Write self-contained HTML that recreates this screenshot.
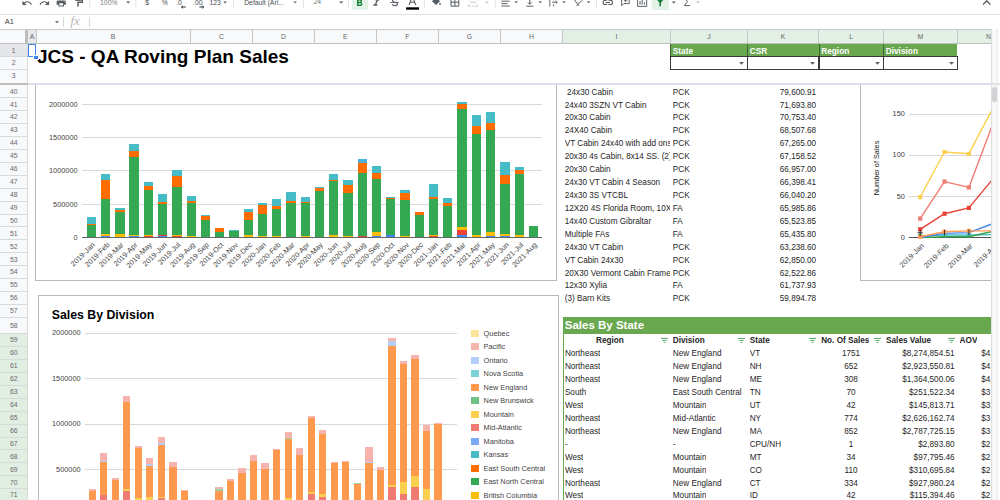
<!DOCTYPE html>
<html><head><meta charset="utf-8"><title>JCS - QA Roving Plan Sales</title>
<style>
html,body{margin:0;padding:0;}
body{width:1000px;height:500px;overflow:hidden;position:relative;background:#fff;font-family:"Liberation Sans", sans-serif;color:#222;}
.a{position:absolute;}
.t{position:absolute;white-space:nowrap;line-height:1;}
.rh{position:absolute;left:0;width:27.4px;text-align:center;font-size:6.8px;color:#6a6670;line-height:1;}
.ch{position:absolute;text-align:center;font-size:6.8px;color:#5f6368;line-height:1;top:34.0px;}
.c{position:absolute;white-space:nowrap;overflow:hidden;font-size:8.2px;line-height:12.9px;height:12.9px;color:#262626;}
.b{font-weight:bold;}
svg{position:absolute;overflow:visible;}
</style></head><body>
<div class="a" style="left:35.2px;top:70.0px;width:521.4px;height:210.8px;border:0.8px solid #b9b9b9;box-sizing:border-box;background:#fff;"></div>
<div class="a" style="left:81.6px;top:236.8px;width:460.8px;height:0.8px;background:#d9d9d9;"></div>
<div class="t" style="right:922.4px;top:233.8px;font-size:7.35px;color:#444;">0</div>
<div class="a" style="left:81.6px;top:203.5px;width:460.8px;height:0.8px;background:#d9d9d9;"></div>
<div class="t" style="right:922.4px;top:200.5px;font-size:7.35px;color:#444;">500000</div>
<div class="a" style="left:81.6px;top:170.3px;width:460.8px;height:0.8px;background:#d9d9d9;"></div>
<div class="t" style="right:922.4px;top:167.3px;font-size:7.35px;color:#444;">1000000</div>
<div class="a" style="left:81.6px;top:137.0px;width:460.8px;height:0.8px;background:#d9d9d9;"></div>
<div class="t" style="right:922.4px;top:134.0px;font-size:7.35px;color:#444;">1500000</div>
<div class="a" style="left:81.6px;top:103.8px;width:460.8px;height:0.8px;background:#d9d9d9;"></div>
<div class="t" style="right:922.4px;top:100.8px;font-size:7.35px;color:#444;">2000000</div>
<div class="a" style="left:86.70px;top:217.40px;width:9.3px;height:19.80px;background:#46bdc6;"></div>
<div class="a" style="left:86.70px;top:224.00px;width:9.3px;height:13.20px;background:#ff6d01;"></div>
<div class="a" style="left:86.70px;top:225.20px;width:9.3px;height:12.00px;background:#34a853;"></div>
<div class="a" style="left:86.70px;top:236.60px;width:9.3px;height:0.60px;background:#fbbc04;"></div>
<div class="a" style="left:100.96px;top:173.60px;width:9.3px;height:63.60px;background:#46bdc6;"></div>
<div class="a" style="left:100.96px;top:180.20px;width:9.3px;height:57.00px;background:#ff6d01;"></div>
<div class="a" style="left:100.96px;top:199.40px;width:9.3px;height:37.80px;background:#34a853;"></div>
<div class="a" style="left:100.96px;top:233.90px;width:9.3px;height:3.30px;background:#fbbc04;"></div>
<div class="a" style="left:100.96px;top:236.00px;width:9.3px;height:1.20px;background:#4285f4;"></div>
<div class="a" style="left:115.22px;top:208.10px;width:9.3px;height:29.10px;background:#46bdc6;"></div>
<div class="a" style="left:115.22px;top:209.60px;width:9.3px;height:27.60px;background:#ff6d01;"></div>
<div class="a" style="left:115.22px;top:212.30px;width:9.3px;height:24.90px;background:#34a853;"></div>
<div class="a" style="left:115.22px;top:234.00px;width:9.3px;height:3.20px;background:#fbbc04;"></div>
<div class="a" style="left:115.22px;top:236.50px;width:9.3px;height:0.70px;background:#fbbc04;"></div>
<div class="a" style="left:129.48px;top:144.20px;width:9.3px;height:93.00px;background:#46bdc6;"></div>
<div class="a" style="left:129.48px;top:151.10px;width:9.3px;height:86.10px;background:#ff6d01;"></div>
<div class="a" style="left:129.48px;top:157.10px;width:9.3px;height:80.10px;background:#34a853;"></div>
<div class="a" style="left:129.48px;top:234.50px;width:9.3px;height:2.70px;background:#fbbc04;"></div>
<div class="a" style="left:129.48px;top:236.20px;width:9.3px;height:1.00px;background:#4285f4;"></div>
<div class="a" style="left:143.74px;top:182.30px;width:9.3px;height:54.90px;background:#46bdc6;"></div>
<div class="a" style="left:143.74px;top:186.00px;width:9.3px;height:51.20px;background:#ff6d01;"></div>
<div class="a" style="left:143.74px;top:190.40px;width:9.3px;height:46.80px;background:#34a853;"></div>
<div class="a" style="left:143.74px;top:234.50px;width:9.3px;height:2.70px;background:#fbbc04;"></div>
<div class="a" style="left:143.74px;top:236.20px;width:9.3px;height:1.00px;background:#ea4335;"></div>
<div class="a" style="left:158.00px;top:194.00px;width:9.3px;height:43.20px;background:#46bdc6;"></div>
<div class="a" style="left:158.00px;top:201.80px;width:9.3px;height:35.40px;background:#ff6d01;"></div>
<div class="a" style="left:158.00px;top:203.60px;width:9.3px;height:33.60px;background:#34a853;"></div>
<div class="a" style="left:158.00px;top:235.00px;width:9.3px;height:2.20px;background:#ea4335;"></div>
<div class="a" style="left:158.00px;top:236.30px;width:9.3px;height:0.90px;background:#4285f4;"></div>
<div class="a" style="left:172.26px;top:170.30px;width:9.3px;height:66.90px;background:#46bdc6;"></div>
<div class="a" style="left:172.26px;top:176.30px;width:9.3px;height:60.90px;background:#ff6d01;"></div>
<div class="a" style="left:172.26px;top:187.40px;width:9.3px;height:49.80px;background:#34a853;"></div>
<div class="a" style="left:172.26px;top:234.50px;width:9.3px;height:2.70px;background:#fbbc04;"></div>
<div class="a" style="left:172.26px;top:235.60px;width:9.3px;height:1.60px;background:#ea4335;"></div>
<div class="a" style="left:186.52px;top:196.10px;width:9.3px;height:41.10px;background:#46bdc6;"></div>
<div class="a" style="left:186.52px;top:200.90px;width:9.3px;height:36.30px;background:#ff6d01;"></div>
<div class="a" style="left:186.52px;top:203.00px;width:9.3px;height:34.20px;background:#34a853;"></div>
<div class="a" style="left:186.52px;top:236.00px;width:9.3px;height:1.20px;background:#fbbc04;"></div>
<div class="a" style="left:200.78px;top:215.00px;width:9.3px;height:22.20px;background:#46bdc6;"></div>
<div class="a" style="left:200.78px;top:215.70px;width:9.3px;height:21.50px;background:#ff6d01;"></div>
<div class="a" style="left:200.78px;top:219.80px;width:9.3px;height:17.40px;background:#34a853;"></div>
<div class="a" style="left:200.78px;top:236.60px;width:9.3px;height:0.60px;background:#fbbc04;"></div>
<div class="a" style="left:215.04px;top:227.90px;width:9.3px;height:9.30px;background:#ff6d01;"></div>
<div class="a" style="left:215.04px;top:232.10px;width:9.3px;height:5.10px;background:#34a853;"></div>
<div class="a" style="left:229.30px;top:229.70px;width:9.3px;height:7.50px;background:#46bdc6;"></div>
<div class="a" style="left:229.30px;top:231.00px;width:9.3px;height:6.20px;background:#34a853;"></div>
<div class="a" style="left:243.56px;top:209.00px;width:9.3px;height:28.20px;background:#46bdc6;"></div>
<div class="a" style="left:243.56px;top:212.00px;width:9.3px;height:25.20px;background:#ff6d01;"></div>
<div class="a" style="left:243.56px;top:220.40px;width:9.3px;height:16.80px;background:#34a853;"></div>
<div class="a" style="left:243.56px;top:235.10px;width:9.3px;height:2.10px;background:#fbbc04;"></div>
<div class="a" style="left:257.82px;top:202.70px;width:9.3px;height:34.50px;background:#46bdc6;"></div>
<div class="a" style="left:257.82px;top:204.50px;width:9.3px;height:32.70px;background:#ff6d01;"></div>
<div class="a" style="left:257.82px;top:214.40px;width:9.3px;height:22.80px;background:#34a853;"></div>
<div class="a" style="left:257.82px;top:236.00px;width:9.3px;height:1.20px;background:#fbbc04;"></div>
<div class="a" style="left:272.08px;top:199.10px;width:9.3px;height:38.10px;background:#46bdc6;"></div>
<div class="a" style="left:272.08px;top:206.30px;width:9.3px;height:30.90px;background:#ff6d01;"></div>
<div class="a" style="left:272.08px;top:209.30px;width:9.3px;height:27.90px;background:#34a853;"></div>
<div class="a" style="left:272.08px;top:236.00px;width:9.3px;height:1.20px;background:#fbbc04;"></div>
<div class="a" style="left:286.34px;top:191.90px;width:9.3px;height:45.30px;background:#46bdc6;"></div>
<div class="a" style="left:286.34px;top:200.90px;width:9.3px;height:36.30px;background:#ff6d01;"></div>
<div class="a" style="left:286.34px;top:202.70px;width:9.3px;height:34.50px;background:#34a853;"></div>
<div class="a" style="left:300.60px;top:196.70px;width:9.3px;height:40.50px;background:#46bdc6;"></div>
<div class="a" style="left:300.60px;top:201.50px;width:9.3px;height:35.70px;background:#ff6d01;"></div>
<div class="a" style="left:300.60px;top:203.00px;width:9.3px;height:34.20px;background:#34a853;"></div>
<div class="a" style="left:300.60px;top:236.00px;width:9.3px;height:1.20px;background:#fbbc04;"></div>
<div class="a" style="left:314.86px;top:186.80px;width:9.3px;height:50.40px;background:#46bdc6;"></div>
<div class="a" style="left:314.86px;top:188.00px;width:9.3px;height:49.20px;background:#ff6d01;"></div>
<div class="a" style="left:314.86px;top:191.00px;width:9.3px;height:46.20px;background:#34a853;"></div>
<div class="a" style="left:314.86px;top:236.50px;width:9.3px;height:0.70px;background:#fbbc04;"></div>
<div class="a" style="left:329.12px;top:174.20px;width:9.3px;height:63.00px;background:#46bdc6;"></div>
<div class="a" style="left:329.12px;top:179.90px;width:9.3px;height:57.30px;background:#ff6d01;"></div>
<div class="a" style="left:329.12px;top:181.10px;width:9.3px;height:56.10px;background:#34a853;"></div>
<div class="a" style="left:329.12px;top:234.80px;width:9.3px;height:2.40px;background:#fbbc04;"></div>
<div class="a" style="left:343.38px;top:180.20px;width:9.3px;height:57.00px;background:#46bdc6;"></div>
<div class="a" style="left:343.38px;top:185.00px;width:9.3px;height:52.20px;background:#ff6d01;"></div>
<div class="a" style="left:343.38px;top:192.80px;width:9.3px;height:44.40px;background:#34a853;"></div>
<div class="a" style="left:343.38px;top:236.00px;width:9.3px;height:1.20px;background:#fbbc04;"></div>
<div class="a" style="left:357.64px;top:159.20px;width:9.3px;height:78.00px;background:#4ab0d6;"></div>
<div class="a" style="left:357.64px;top:163.40px;width:9.3px;height:73.80px;background:#ff6d01;"></div>
<div class="a" style="left:357.64px;top:173.00px;width:9.3px;height:64.20px;background:#34a853;"></div>
<div class="a" style="left:357.64px;top:236.40px;width:9.3px;height:0.80px;background:#ea4335;"></div>
<div class="a" style="left:371.90px;top:166.40px;width:9.3px;height:70.80px;background:#46bdc6;"></div>
<div class="a" style="left:371.90px;top:172.70px;width:9.3px;height:64.50px;background:#ff6d01;"></div>
<div class="a" style="left:371.90px;top:179.30px;width:9.3px;height:57.90px;background:#34a853;"></div>
<div class="a" style="left:371.90px;top:232.10px;width:9.3px;height:5.10px;background:#fbbc04;"></div>
<div class="a" style="left:371.90px;top:236.40px;width:9.3px;height:0.80px;background:#4285f4;"></div>
<div class="a" style="left:386.16px;top:197.00px;width:9.3px;height:40.20px;background:#46bdc6;"></div>
<div class="a" style="left:386.16px;top:197.70px;width:9.3px;height:39.50px;background:#ff6d01;"></div>
<div class="a" style="left:386.16px;top:199.10px;width:9.3px;height:38.10px;background:#34a853;"></div>
<div class="a" style="left:386.16px;top:235.10px;width:9.3px;height:2.10px;background:#4285f4;"></div>
<div class="a" style="left:400.42px;top:190.10px;width:9.3px;height:47.10px;background:#46bdc6;"></div>
<div class="a" style="left:400.42px;top:192.80px;width:9.3px;height:44.40px;background:#ff6d01;"></div>
<div class="a" style="left:400.42px;top:200.30px;width:9.3px;height:36.90px;background:#34a853;"></div>
<div class="a" style="left:400.42px;top:236.00px;width:9.3px;height:1.20px;background:#fbbc04;"></div>
<div class="a" style="left:414.68px;top:212.00px;width:9.3px;height:25.20px;background:#ff6d01;"></div>
<div class="a" style="left:414.68px;top:215.00px;width:9.3px;height:22.20px;background:#34a853;"></div>
<div class="a" style="left:414.68px;top:236.60px;width:9.3px;height:0.60px;background:#fbbc04;"></div>
<div class="a" style="left:428.94px;top:184.10px;width:9.3px;height:53.10px;background:#46bdc6;"></div>
<div class="a" style="left:428.94px;top:197.00px;width:9.3px;height:40.20px;background:#ff6d01;"></div>
<div class="a" style="left:428.94px;top:199.40px;width:9.3px;height:37.80px;background:#34a853;"></div>
<div class="a" style="left:428.94px;top:235.40px;width:9.3px;height:1.80px;background:#fbbc04;"></div>
<div class="a" style="left:428.94px;top:236.30px;width:9.3px;height:0.90px;background:#ea4335;"></div>
<div class="a" style="left:443.20px;top:198.20px;width:9.3px;height:39.00px;background:#46bdc6;"></div>
<div class="a" style="left:443.20px;top:202.70px;width:9.3px;height:34.50px;background:#ff6d01;"></div>
<div class="a" style="left:443.20px;top:206.30px;width:9.3px;height:30.90px;background:#34a853;"></div>
<div class="a" style="left:457.46px;top:101.90px;width:9.3px;height:135.30px;background:#46bdc6;"></div>
<div class="a" style="left:457.46px;top:104.30px;width:9.3px;height:132.90px;background:#ff6d01;"></div>
<div class="a" style="left:457.46px;top:109.10px;width:9.3px;height:128.10px;background:#34a853;"></div>
<div class="a" style="left:457.46px;top:227.00px;width:9.3px;height:10.20px;background:#fbbc04;"></div>
<div class="a" style="left:457.46px;top:230.00px;width:9.3px;height:7.20px;background:#ea4335;"></div>
<div class="a" style="left:457.46px;top:234.50px;width:9.3px;height:2.70px;background:#4285f4;"></div>
<div class="a" style="left:471.72px;top:114.80px;width:9.3px;height:122.40px;background:#46bdc6;"></div>
<div class="a" style="left:471.72px;top:126.20px;width:9.3px;height:111.00px;background:#ff6d01;"></div>
<div class="a" style="left:471.72px;top:134.30px;width:9.3px;height:102.90px;background:#34a853;"></div>
<div class="a" style="left:471.72px;top:234.50px;width:9.3px;height:2.70px;background:#fbbc04;"></div>
<div class="a" style="left:485.98px;top:111.80px;width:9.3px;height:125.40px;background:#46bdc6;"></div>
<div class="a" style="left:485.98px;top:122.90px;width:9.3px;height:114.30px;background:#ff6d01;"></div>
<div class="a" style="left:485.98px;top:130.10px;width:9.3px;height:107.10px;background:#34a853;"></div>
<div class="a" style="left:485.98px;top:231.50px;width:9.3px;height:5.70px;background:#fbbc04;"></div>
<div class="a" style="left:485.98px;top:236.00px;width:9.3px;height:1.20px;background:#4285f4;"></div>
<div class="a" style="left:500.24px;top:162.20px;width:9.3px;height:75.00px;background:#46bdc6;"></div>
<div class="a" style="left:500.24px;top:175.40px;width:9.3px;height:61.80px;background:#ff6d01;"></div>
<div class="a" style="left:500.24px;top:184.10px;width:9.3px;height:53.10px;background:#34a853;"></div>
<div class="a" style="left:500.24px;top:233.90px;width:9.3px;height:3.30px;background:#fbbc04;"></div>
<div class="a" style="left:500.24px;top:236.00px;width:9.3px;height:1.20px;background:#4285f4;"></div>
<div class="a" style="left:514.50px;top:167.00px;width:9.3px;height:70.20px;background:#46bdc6;"></div>
<div class="a" style="left:514.50px;top:170.00px;width:9.3px;height:67.20px;background:#ff6d01;"></div>
<div class="a" style="left:514.50px;top:173.60px;width:9.3px;height:63.60px;background:#34a853;"></div>
<div class="a" style="left:514.50px;top:234.80px;width:9.3px;height:2.40px;background:#fbbc04;"></div>
<div class="a" style="left:528.76px;top:226.10px;width:9.3px;height:11.10px;background:#34a853;"></div>
<div class="a" style="left:81.6px;top:237.1px;width:460.8px;height:0.8px;background:#666;"></div>
<div class="t" style="right:906.0px;top:240.4px;font-size:7.35px;color:#444;transform-origin:100% 50%;transform:rotate(-45deg);">2019-Jan</div>
<div class="t" style="right:891.8px;top:240.4px;font-size:7.35px;color:#444;transform-origin:100% 50%;transform:rotate(-45deg);">2019-Feb</div>
<div class="t" style="right:877.5px;top:240.4px;font-size:7.35px;color:#444;transform-origin:100% 50%;transform:rotate(-45deg);">2019-Mar</div>
<div class="t" style="right:863.3px;top:240.4px;font-size:7.35px;color:#444;transform-origin:100% 50%;transform:rotate(-45deg);">2019-Apr</div>
<div class="t" style="right:849.0px;top:240.4px;font-size:7.35px;color:#444;transform-origin:100% 50%;transform:rotate(-45deg);">2019-May</div>
<div class="t" style="right:834.8px;top:240.4px;font-size:7.35px;color:#444;transform-origin:100% 50%;transform:rotate(-45deg);">2019-Jun</div>
<div class="t" style="right:820.5px;top:240.4px;font-size:7.35px;color:#444;transform-origin:100% 50%;transform:rotate(-45deg);">2019-Jul</div>
<div class="t" style="right:806.2px;top:240.4px;font-size:7.35px;color:#444;transform-origin:100% 50%;transform:rotate(-45deg);">2019-Aug</div>
<div class="t" style="right:792.0px;top:240.4px;font-size:7.35px;color:#444;transform-origin:100% 50%;transform:rotate(-45deg);">2019-Sep</div>
<div class="t" style="right:777.7px;top:240.4px;font-size:7.35px;color:#444;transform-origin:100% 50%;transform:rotate(-45deg);">2019-Oct</div>
<div class="t" style="right:763.5px;top:240.4px;font-size:7.35px;color:#444;transform-origin:100% 50%;transform:rotate(-45deg);">2019-Nov</div>
<div class="t" style="right:749.2px;top:240.4px;font-size:7.35px;color:#444;transform-origin:100% 50%;transform:rotate(-45deg);">2019-Dec</div>
<div class="t" style="right:734.9px;top:240.4px;font-size:7.35px;color:#444;transform-origin:100% 50%;transform:rotate(-45deg);">2020-Jan</div>
<div class="t" style="right:720.7px;top:240.4px;font-size:7.35px;color:#444;transform-origin:100% 50%;transform:rotate(-45deg);">2020-Feb</div>
<div class="t" style="right:706.4px;top:240.4px;font-size:7.35px;color:#444;transform-origin:100% 50%;transform:rotate(-45deg);">2020-Mar</div>
<div class="t" style="right:692.1px;top:240.4px;font-size:7.35px;color:#444;transform-origin:100% 50%;transform:rotate(-45deg);">2020-Apr</div>
<div class="t" style="right:677.9px;top:240.4px;font-size:7.35px;color:#444;transform-origin:100% 50%;transform:rotate(-45deg);">2020-May</div>
<div class="t" style="right:663.6px;top:240.4px;font-size:7.35px;color:#444;transform-origin:100% 50%;transform:rotate(-45deg);">2020-Jun</div>
<div class="t" style="right:649.4px;top:240.4px;font-size:7.35px;color:#444;transform-origin:100% 50%;transform:rotate(-45deg);">2020-Jul</div>
<div class="t" style="right:635.1px;top:240.4px;font-size:7.35px;color:#444;transform-origin:100% 50%;transform:rotate(-45deg);">2020-Aug</div>
<div class="t" style="right:620.9px;top:240.4px;font-size:7.35px;color:#444;transform-origin:100% 50%;transform:rotate(-45deg);">2020-Sep</div>
<div class="t" style="right:606.6px;top:240.4px;font-size:7.35px;color:#444;transform-origin:100% 50%;transform:rotate(-45deg);">2020-Oct</div>
<div class="t" style="right:592.3px;top:240.4px;font-size:7.35px;color:#444;transform-origin:100% 50%;transform:rotate(-45deg);">2020-Nov</div>
<div class="t" style="right:578.1px;top:240.4px;font-size:7.35px;color:#444;transform-origin:100% 50%;transform:rotate(-45deg);">2020-Dec</div>
<div class="t" style="right:563.8px;top:240.4px;font-size:7.35px;color:#444;transform-origin:100% 50%;transform:rotate(-45deg);">2021-Jan</div>
<div class="t" style="right:549.5px;top:240.4px;font-size:7.35px;color:#444;transform-origin:100% 50%;transform:rotate(-45deg);">2021-Feb</div>
<div class="t" style="right:535.3px;top:240.4px;font-size:7.35px;color:#444;transform-origin:100% 50%;transform:rotate(-45deg);">2021-Mar</div>
<div class="t" style="right:521.0px;top:240.4px;font-size:7.35px;color:#444;transform-origin:100% 50%;transform:rotate(-45deg);">2021-Apr</div>
<div class="t" style="right:506.8px;top:240.4px;font-size:7.35px;color:#444;transform-origin:100% 50%;transform:rotate(-45deg);">2021-May</div>
<div class="t" style="right:492.5px;top:240.4px;font-size:7.35px;color:#444;transform-origin:100% 50%;transform:rotate(-45deg);">2021-Jun</div>
<div class="t" style="right:478.2px;top:240.4px;font-size:7.35px;color:#444;transform-origin:100% 50%;transform:rotate(-45deg);">2021-Jul</div>
<div class="t" style="right:464.0px;top:240.4px;font-size:7.35px;color:#444;transform-origin:100% 50%;transform:rotate(-45deg);">2021-Aug</div>
<div class="c" style="left:564.7px;top:86.6px;width:105.4px;"> 24x30 Cabin</div>
<div class="c" style="left:672.8px;top:86.6px;width:73.9px;">PCK</div>
<div class="c" style="left:747.3px;top:86.6px;width:68.9px;text-align:right;">79,600.91</div>
<div class="c" style="left:564.7px;top:99.5px;width:105.4px;">24x40 3SZN VT Cabin</div>
<div class="c" style="left:672.8px;top:99.5px;width:73.9px;">PCK</div>
<div class="c" style="left:747.3px;top:99.5px;width:68.9px;text-align:right;">71,693.80</div>
<div class="c" style="left:564.7px;top:112.4px;width:105.4px;">20x30 Cabin</div>
<div class="c" style="left:672.8px;top:112.4px;width:73.9px;">PCK</div>
<div class="c" style="left:747.3px;top:112.4px;width:68.9px;text-align:right;">70,753.40</div>
<div class="c" style="left:564.7px;top:125.4px;width:105.4px;">24X40 Cabin</div>
<div class="c" style="left:672.8px;top:125.4px;width:73.9px;">PCK</div>
<div class="c" style="left:747.3px;top:125.4px;width:68.9px;text-align:right;">68,507.68</div>
<div class="c" style="left:564.7px;top:138.3px;width:105.4px;">VT Cabin 24x40 with add ons</div>
<div class="c" style="left:672.8px;top:138.3px;width:73.9px;">PCK</div>
<div class="c" style="left:747.3px;top:138.3px;width:68.9px;text-align:right;">67,265.00</div>
<div class="c" style="left:564.7px;top:151.2px;width:105.4px;">20x30 4s Cabin, 8x14 SS. (2)</div>
<div class="c" style="left:672.8px;top:151.2px;width:73.9px;">PCK</div>
<div class="c" style="left:747.3px;top:151.2px;width:68.9px;text-align:right;">67,158.52</div>
<div class="c" style="left:564.7px;top:164.1px;width:105.4px;">20x30 Cabin</div>
<div class="c" style="left:672.8px;top:164.1px;width:73.9px;">PCK</div>
<div class="c" style="left:747.3px;top:164.1px;width:68.9px;text-align:right;">66,957.00</div>
<div class="c" style="left:564.7px;top:177.0px;width:105.4px;">24x30 VT Cabin 4 Season</div>
<div class="c" style="left:672.8px;top:177.0px;width:73.9px;">PCK</div>
<div class="c" style="left:747.3px;top:177.0px;width:68.9px;text-align:right;">66,398.41</div>
<div class="c" style="left:564.7px;top:190.0px;width:105.4px;">24x30 3S VTCBL</div>
<div class="c" style="left:672.8px;top:190.0px;width:73.9px;">PCK</div>
<div class="c" style="left:747.3px;top:190.0px;width:68.9px;text-align:right;">66,040.20</div>
<div class="c" style="left:564.7px;top:202.9px;width:105.4px;">12X20 4S Florida Room, 10X12</div>
<div class="c" style="left:672.8px;top:202.9px;width:73.9px;">FA</div>
<div class="c" style="left:747.3px;top:202.9px;width:68.9px;text-align:right;">65,985.86</div>
<div class="c" style="left:564.7px;top:215.8px;width:105.4px;">14x40 Custom Gibraltar</div>
<div class="c" style="left:672.8px;top:215.8px;width:73.9px;">FA</div>
<div class="c" style="left:747.3px;top:215.8px;width:68.9px;text-align:right;">65,523.85</div>
<div class="c" style="left:564.7px;top:228.7px;width:105.4px;">Multiple FAs</div>
<div class="c" style="left:672.8px;top:228.7px;width:73.9px;">FA</div>
<div class="c" style="left:747.3px;top:228.7px;width:68.9px;text-align:right;">65,435.80</div>
<div class="c" style="left:564.7px;top:241.6px;width:105.4px;">24x30 VT Cabin</div>
<div class="c" style="left:672.8px;top:241.6px;width:73.9px;">PCK</div>
<div class="c" style="left:747.3px;top:241.6px;width:68.9px;text-align:right;">63,238.60</div>
<div class="c" style="left:564.7px;top:254.6px;width:105.4px;">VT Cabin 24x30</div>
<div class="c" style="left:672.8px;top:254.6px;width:73.9px;">PCK</div>
<div class="c" style="left:747.3px;top:254.6px;width:68.9px;text-align:right;">62,850.00</div>
<div class="c" style="left:564.7px;top:267.5px;width:105.4px;">20X30 Vermont Cabin Frame</div>
<div class="c" style="left:672.8px;top:267.5px;width:73.9px;">PCK</div>
<div class="c" style="left:747.3px;top:267.5px;width:68.9px;text-align:right;">62,522.86</div>
<div class="c" style="left:564.7px;top:280.4px;width:105.4px;">12x30 Xylia</div>
<div class="c" style="left:672.8px;top:280.4px;width:73.9px;">FA</div>
<div class="c" style="left:747.3px;top:280.4px;width:68.9px;text-align:right;">61,737.93</div>
<div class="c" style="left:564.7px;top:293.3px;width:105.4px;">(3) Barn Kits</div>
<div class="c" style="left:672.8px;top:293.3px;width:73.9px;">PCK</div>
<div class="c" style="left:747.3px;top:293.3px;width:68.9px;text-align:right;">59,894.78</div>
<div class="a" style="left:562.8px;top:317.1px;width:428.2px;height:16.5px;background:#6aa84f;"></div>
<div class="t b" style="left:564.8px;top:319.6px;font-size:11.5px;color:#fff;">Sales By State</div>
<div class="a" style="left:562.6px;top:333px;width:0.8px;height:170px;background:#6aa84f;"></div>
<div class="c b" style="left:562.4px;top:335.4px;width:95.0px;text-align:center;">Region</div>
<div class="c b" style="left:672.8px;top:335.4px;">Division</div>
<div class="c b" style="left:749.7px;top:335.4px;">State</div>
<div class="c b" style="left:821.2px;top:335.4px;">No. Of Sales</div>
<div class="c b" style="left:886.1px;top:335.4px;">Sales Value</div>
<div class="c b" style="left:959.6px;top:335.4px;">AOV</div>
<svg style="left:661.0px;top:337.5px" width="7" height="5" viewBox="0 0 7 5"><path d="M0 0.4h7M1.4 2.4h4.2M2.7 4.4h1.6" stroke="#3c9a53" stroke-width="0.9" fill="none"/></svg>
<svg style="left:737.9px;top:337.5px" width="7" height="5" viewBox="0 0 7 5"><path d="M0 0.4h7M1.4 2.4h4.2M2.7 4.4h1.6" stroke="#3c9a53" stroke-width="0.9" fill="none"/></svg>
<svg style="left:809.4px;top:337.5px" width="7" height="5" viewBox="0 0 7 5"><path d="M0 0.4h7M1.4 2.4h4.2M2.7 4.4h1.6" stroke="#3c9a53" stroke-width="0.9" fill="none"/></svg>
<svg style="left:873.9px;top:337.5px" width="7" height="5" viewBox="0 0 7 5"><path d="M0 0.4h7M1.4 2.4h4.2M2.7 4.4h1.6" stroke="#3c9a53" stroke-width="0.9" fill="none"/></svg>
<svg style="left:948.0px;top:337.5px" width="7" height="5" viewBox="0 0 7 5"><path d="M0 0.4h7M1.4 2.4h4.2M2.7 4.4h1.6" stroke="#3c9a53" stroke-width="0.9" fill="none"/></svg>
<div class="c" style="left:564.9px;top:348.3px;">Northeast</div>
<div class="c" style="left:672.8px;top:348.3px;">New England</div>
<div class="c" style="left:749.7px;top:348.3px;">VT</div>
<div class="c" style="left:818.8px;top:348.3px;width:64.5px;text-align:center;">1751</div>
<div class="c" style="left:883.3px;top:348.3px;width:71.3px;text-align:right;">$8,274,854.51</div>
<div class="c" style="left:981.2px;top:348.3px;width:40px;">$4,725.00</div>
<div class="c" style="left:564.9px;top:361.2px;">Northeast</div>
<div class="c" style="left:672.8px;top:361.2px;">New England</div>
<div class="c" style="left:749.7px;top:361.2px;">NH</div>
<div class="c" style="left:818.8px;top:361.2px;width:64.5px;text-align:center;">652</div>
<div class="c" style="left:883.3px;top:361.2px;width:71.3px;text-align:right;">$2,923,550.81</div>
<div class="c" style="left:981.2px;top:361.2px;width:40px;">$4,725.00</div>
<div class="c" style="left:564.9px;top:374.2px;">Northeast</div>
<div class="c" style="left:672.8px;top:374.2px;">New England</div>
<div class="c" style="left:749.7px;top:374.2px;">ME</div>
<div class="c" style="left:818.8px;top:374.2px;width:64.5px;text-align:center;">308</div>
<div class="c" style="left:883.3px;top:374.2px;width:71.3px;text-align:right;">$1,364,500.06</div>
<div class="c" style="left:981.2px;top:374.2px;width:40px;">$4,725.00</div>
<div class="c" style="left:564.9px;top:387.1px;">South</div>
<div class="c" style="left:672.8px;top:387.1px;">East South Central</div>
<div class="c" style="left:749.7px;top:387.1px;">TN</div>
<div class="c" style="left:818.8px;top:387.1px;width:64.5px;text-align:center;">70</div>
<div class="c" style="left:883.3px;top:387.1px;width:71.3px;text-align:right;">$251,522.34</div>
<div class="c" style="left:981.2px;top:387.1px;width:40px;">$3,725.00</div>
<div class="c" style="left:564.9px;top:400.0px;">West</div>
<div class="c" style="left:672.8px;top:400.0px;">Mountain</div>
<div class="c" style="left:749.7px;top:400.0px;">UT</div>
<div class="c" style="left:818.8px;top:400.0px;width:64.5px;text-align:center;">42</div>
<div class="c" style="left:883.3px;top:400.0px;width:71.3px;text-align:right;">$145,813.71</div>
<div class="c" style="left:981.2px;top:400.0px;width:40px;">$3,725.00</div>
<div class="c" style="left:564.9px;top:412.9px;">Northeast</div>
<div class="c" style="left:672.8px;top:412.9px;">Mid-Atlantic</div>
<div class="c" style="left:749.7px;top:412.9px;">NY</div>
<div class="c" style="left:818.8px;top:412.9px;width:64.5px;text-align:center;">774</div>
<div class="c" style="left:883.3px;top:412.9px;width:71.3px;text-align:right;">$2,626,162.74</div>
<div class="c" style="left:981.2px;top:412.9px;width:40px;">$3,725.00</div>
<div class="c" style="left:564.9px;top:425.8px;">Northeast</div>
<div class="c" style="left:672.8px;top:425.8px;">New England</div>
<div class="c" style="left:749.7px;top:425.8px;">MA</div>
<div class="c" style="left:818.8px;top:425.8px;width:64.5px;text-align:center;">852</div>
<div class="c" style="left:883.3px;top:425.8px;width:71.3px;text-align:right;">$2,787,725.15</div>
<div class="c" style="left:981.2px;top:425.8px;width:40px;">$3,725.00</div>
<div class="c" style="left:564.9px;top:438.8px;">-</div>
<div class="c" style="left:672.8px;top:438.8px;">-</div>
<div class="c" style="left:749.7px;top:438.8px;">CPU/NH</div>
<div class="c" style="left:818.8px;top:438.8px;width:64.5px;text-align:center;">1</div>
<div class="c" style="left:883.3px;top:438.8px;width:71.3px;text-align:right;">$2,893.80</div>
<div class="c" style="left:981.2px;top:438.8px;width:40px;">$2,725.00</div>
<div class="c" style="left:564.9px;top:451.7px;">West</div>
<div class="c" style="left:672.8px;top:451.7px;">Mountain</div>
<div class="c" style="left:749.7px;top:451.7px;">MT</div>
<div class="c" style="left:818.8px;top:451.7px;width:64.5px;text-align:center;">34</div>
<div class="c" style="left:883.3px;top:451.7px;width:71.3px;text-align:right;">$97,795.46</div>
<div class="c" style="left:981.2px;top:451.7px;width:40px;">$2,725.00</div>
<div class="c" style="left:564.9px;top:464.6px;">West</div>
<div class="c" style="left:672.8px;top:464.6px;">Mountain</div>
<div class="c" style="left:749.7px;top:464.6px;">CO</div>
<div class="c" style="left:818.8px;top:464.6px;width:64.5px;text-align:center;">110</div>
<div class="c" style="left:883.3px;top:464.6px;width:71.3px;text-align:right;">$310,695.84</div>
<div class="c" style="left:981.2px;top:464.6px;width:40px;">$2,725.00</div>
<div class="c" style="left:564.9px;top:477.5px;">Northeast</div>
<div class="c" style="left:672.8px;top:477.5px;">New England</div>
<div class="c" style="left:749.7px;top:477.5px;">CT</div>
<div class="c" style="left:818.8px;top:477.5px;width:64.5px;text-align:center;">334</div>
<div class="c" style="left:883.3px;top:477.5px;width:71.3px;text-align:right;">$927,980.24</div>
<div class="c" style="left:981.2px;top:477.5px;width:40px;">$2,725.00</div>
<div class="c" style="left:564.9px;top:490.4px;">West</div>
<div class="c" style="left:672.8px;top:490.4px;">Mountain</div>
<div class="c" style="left:749.7px;top:490.4px;">ID</div>
<div class="c" style="left:818.8px;top:490.4px;width:64.5px;text-align:center;">42</div>
<div class="c" style="left:883.3px;top:490.4px;width:71.3px;text-align:right;">$115,394.46</div>
<div class="c" style="left:981.2px;top:490.4px;width:40px;">$2,725.00</div>
<div class="a" style="left:38.0px;top:294.9px;width:521.0px;height:230px;border:0.8px solid #b9b9b9;box-sizing:border-box;background:#fff;"></div>
<div class="t b" style="left:51.8px;top:308.6px;font-size:12.3px;color:#000;">Sales By Division</div>
<div class="a" style="left:84.6px;top:332.9px;width:372.7px;height:0.8px;background:#d9d9d9;"></div>
<div class="t" style="right:919.4px;top:329.4px;font-size:7.35px;color:#444;">2000000</div>
<div class="a" style="left:84.6px;top:378.4px;width:372.7px;height:0.8px;background:#d9d9d9;"></div>
<div class="t" style="right:919.4px;top:374.9px;font-size:7.35px;color:#444;">1500000</div>
<div class="a" style="left:84.6px;top:423.9px;width:372.7px;height:0.8px;background:#d9d9d9;"></div>
<div class="t" style="right:919.4px;top:420.4px;font-size:7.35px;color:#444;">1000000</div>
<div class="a" style="left:84.6px;top:469.4px;width:372.7px;height:0.8px;background:#d9d9d9;"></div>
<div class="t" style="right:919.4px;top:465.9px;font-size:7.35px;color:#444;">500000</div>
<div class="a" style="left:471.4px;top:329.5px;width:7.4px;height:7.4px;background:#fde49b;"></div>
<div class="t" style="left:483.6px;top:329.9px;font-size:7.35px;color:#444;">Quebec</div>
<div class="a" style="left:471.4px;top:343.0px;width:7.4px;height:7.4px;background:#f7b4ae;"></div>
<div class="t" style="left:483.6px;top:343.4px;font-size:7.35px;color:#444;">Pacific</div>
<div class="a" style="left:471.4px;top:356.5px;width:7.4px;height:7.4px;background:#b3cefb;"></div>
<div class="t" style="left:483.6px;top:356.9px;font-size:7.35px;color:#444;">Ontario</div>
<div class="a" style="left:471.4px;top:370.0px;width:7.4px;height:7.4px;background:#7ed1d7;"></div>
<div class="t" style="left:483.6px;top:370.4px;font-size:7.35px;color:#444;">Nova Scotia</div>
<div class="a" style="left:471.4px;top:383.5px;width:7.4px;height:7.4px;background:#ff994d;"></div>
<div class="t" style="left:483.6px;top:383.9px;font-size:7.35px;color:#444;">New England</div>
<div class="a" style="left:471.4px;top:397.0px;width:7.4px;height:7.4px;background:#71c287;"></div>
<div class="t" style="left:483.6px;top:397.4px;font-size:7.35px;color:#444;">New Brunswick</div>
<div class="a" style="left:471.4px;top:410.5px;width:7.4px;height:7.4px;background:#fcd04f;"></div>
<div class="t" style="left:483.6px;top:410.9px;font-size:7.35px;color:#444;">Mountain</div>
<div class="a" style="left:471.4px;top:424.0px;width:7.4px;height:7.4px;background:#f07b72;"></div>
<div class="t" style="left:483.6px;top:424.4px;font-size:7.35px;color:#444;">Mid-Atlantic</div>
<div class="a" style="left:471.4px;top:437.5px;width:7.4px;height:7.4px;background:#7baaf7;"></div>
<div class="t" style="left:483.6px;top:437.9px;font-size:7.35px;color:#444;">Manitoba</div>
<div class="a" style="left:471.4px;top:451.0px;width:7.4px;height:7.4px;background:#46bdc6;"></div>
<div class="t" style="left:483.6px;top:451.4px;font-size:7.35px;color:#444;">Kansas</div>
<div class="a" style="left:471.4px;top:464.5px;width:7.4px;height:7.4px;background:#ff6d01;"></div>
<div class="t" style="left:483.6px;top:464.9px;font-size:7.35px;color:#444;">East South Central</div>
<div class="a" style="left:471.4px;top:478.0px;width:7.4px;height:7.4px;background:#34a853;"></div>
<div class="t" style="left:483.6px;top:478.4px;font-size:7.35px;color:#444;">East North Central</div>
<div class="a" style="left:471.4px;top:491.5px;width:7.4px;height:7.4px;background:#fbbc04;"></div>
<div class="t" style="left:483.6px;top:491.9px;font-size:7.35px;color:#444;">British Columbia</div>
<div class="a" style="left:88.50px;top:489.20px;width:7.3px;height:15.80px;background:#f7b4ae;"></div>
<div class="a" style="left:88.50px;top:491.00px;width:7.3px;height:14.00px;background:#ff994d;"></div>
<div class="a" style="left:100.03px;top:453.10px;width:7.3px;height:51.90px;background:#f7b4ae;"></div>
<div class="a" style="left:100.03px;top:461.00px;width:7.3px;height:44.00px;background:#b3cefb;"></div>
<div class="a" style="left:100.03px;top:462.00px;width:7.3px;height:43.00px;background:#ff994d;"></div>
<div class="a" style="left:100.03px;top:495.30px;width:7.3px;height:9.70px;background:#f07b72;"></div>
<div class="a" style="left:111.56px;top:478.30px;width:7.3px;height:26.70px;background:#f7b4ae;"></div>
<div class="a" style="left:111.56px;top:480.00px;width:7.3px;height:25.00px;background:#ff994d;"></div>
<div class="a" style="left:123.09px;top:395.60px;width:7.3px;height:109.40px;background:#f7b4ae;"></div>
<div class="a" style="left:123.09px;top:402.10px;width:7.3px;height:102.90px;background:#ff994d;"></div>
<div class="a" style="left:123.09px;top:488.80px;width:7.3px;height:16.20px;background:#fcd04f;"></div>
<div class="a" style="left:123.09px;top:491.20px;width:7.3px;height:13.80px;background:#f07b72;"></div>
<div class="a" style="left:134.62px;top:446.00px;width:7.3px;height:59.00px;background:#f7b4ae;"></div>
<div class="a" style="left:134.62px;top:448.00px;width:7.3px;height:57.00px;background:#ff994d;"></div>
<div class="a" style="left:134.62px;top:497.70px;width:7.3px;height:7.30px;background:#fcd04f;"></div>
<div class="a" style="left:146.15px;top:458.20px;width:7.3px;height:46.80px;background:#f7b4ae;"></div>
<div class="a" style="left:146.15px;top:464.00px;width:7.3px;height:41.00px;background:#b3cefb;"></div>
<div class="a" style="left:146.15px;top:466.00px;width:7.3px;height:39.00px;background:#ff994d;"></div>
<div class="a" style="left:146.15px;top:497.30px;width:7.3px;height:7.70px;background:#fcd04f;"></div>
<div class="a" style="left:157.68px;top:436.50px;width:7.3px;height:68.50px;background:#f7b4ae;"></div>
<div class="a" style="left:157.68px;top:442.90px;width:7.3px;height:62.10px;background:#b3cefb;"></div>
<div class="a" style="left:157.68px;top:445.00px;width:7.3px;height:60.00px;background:#ff994d;"></div>
<div class="a" style="left:157.68px;top:496.70px;width:7.3px;height:8.30px;background:#fcd04f;"></div>
<div class="a" style="left:157.68px;top:498.00px;width:7.3px;height:7.00px;background:#f07b72;"></div>
<div class="a" style="left:169.21px;top:462.00px;width:7.3px;height:43.00px;background:#f7b4ae;"></div>
<div class="a" style="left:169.21px;top:466.70px;width:7.3px;height:38.30px;background:#ff994d;"></div>
<div class="a" style="left:180.74px;top:490.20px;width:7.3px;height:14.80px;background:#f7b4ae;"></div>
<div class="a" style="left:180.74px;top:490.80px;width:7.3px;height:14.20px;background:#ff994d;"></div>
<div class="a" style="left:215.33px;top:486.50px;width:7.3px;height:18.50px;background:#f7b4ae;"></div>
<div class="a" style="left:215.33px;top:488.50px;width:7.3px;height:16.50px;background:#9ad0a5;"></div>
<div class="a" style="left:215.33px;top:491.00px;width:7.3px;height:14.00px;background:#ff994d;"></div>
<div class="a" style="left:226.86px;top:478.60px;width:7.3px;height:26.40px;background:#f7b4ae;"></div>
<div class="a" style="left:226.86px;top:480.70px;width:7.3px;height:24.30px;background:#ff994d;"></div>
<div class="a" style="left:238.39px;top:467.80px;width:7.3px;height:37.20px;background:#f7b4ae;"></div>
<div class="a" style="left:238.39px;top:472.50px;width:7.3px;height:32.50px;background:#ff994d;"></div>
<div class="a" style="left:249.92px;top:454.50px;width:7.3px;height:50.50px;background:#f7b4ae;"></div>
<div class="a" style="left:249.92px;top:460.60px;width:7.3px;height:44.40px;background:#ff994d;"></div>
<div class="a" style="left:261.45px;top:462.70px;width:7.3px;height:42.30px;background:#f7b4ae;"></div>
<div class="a" style="left:261.45px;top:468.80px;width:7.3px;height:36.20px;background:#ff994d;"></div>
<div class="a" style="left:272.98px;top:449.00px;width:7.3px;height:56.00px;background:#f7b4ae;"></div>
<div class="a" style="left:272.98px;top:450.00px;width:7.3px;height:55.00px;background:#ff994d;"></div>
<div class="a" style="left:284.51px;top:432.40px;width:7.3px;height:72.60px;background:#f7b4ae;"></div>
<div class="a" style="left:284.51px;top:437.50px;width:7.3px;height:67.50px;background:#9ad0a5;"></div>
<div class="a" style="left:284.51px;top:438.50px;width:7.3px;height:66.50px;background:#ff994d;"></div>
<div class="a" style="left:284.51px;top:498.40px;width:7.3px;height:6.60px;background:#fcd04f;"></div>
<div class="a" style="left:296.04px;top:448.00px;width:7.3px;height:57.00px;background:#f7b4ae;"></div>
<div class="a" style="left:296.04px;top:454.50px;width:7.3px;height:50.50px;background:#ff994d;"></div>
<div class="a" style="left:307.57px;top:416.00px;width:7.3px;height:89.00px;background:#f7b4ae;"></div>
<div class="a" style="left:307.57px;top:418.10px;width:7.3px;height:86.90px;background:#ff994d;"></div>
<div class="a" style="left:307.57px;top:491.90px;width:7.3px;height:13.10px;background:#fcd04f;"></div>
<div class="a" style="left:307.57px;top:494.00px;width:7.3px;height:11.00px;background:#f07b72;"></div>
<div class="a" style="left:319.10px;top:429.70px;width:7.3px;height:75.30px;background:#f7b4ae;"></div>
<div class="a" style="left:319.10px;top:434.10px;width:7.3px;height:70.90px;background:#ff994d;"></div>
<div class="a" style="left:319.10px;top:494.00px;width:7.3px;height:11.00px;background:#fcd04f;"></div>
<div class="a" style="left:319.10px;top:497.00px;width:7.3px;height:8.00px;background:#f07b72;"></div>
<div class="a" style="left:330.63px;top:462.00px;width:7.3px;height:43.00px;background:#f7b4ae;"></div>
<div class="a" style="left:330.63px;top:462.50px;width:7.3px;height:42.50px;background:#ff994d;"></div>
<div class="a" style="left:342.16px;top:461.00px;width:7.3px;height:44.00px;background:#f7b4ae;"></div>
<div class="a" style="left:342.16px;top:462.30px;width:7.3px;height:42.70px;background:#ff994d;"></div>
<div class="a" style="left:353.69px;top:482.90px;width:7.3px;height:22.10px;background:#9ad0a5;"></div>
<div class="a" style="left:353.69px;top:483.70px;width:7.3px;height:21.30px;background:#ff994d;"></div>
<div class="a" style="left:365.22px;top:447.20px;width:7.3px;height:57.80px;background:#f7b4ae;"></div>
<div class="a" style="left:365.22px;top:462.30px;width:7.3px;height:42.70px;background:#b3cefb;"></div>
<div class="a" style="left:365.22px;top:463.30px;width:7.3px;height:41.70px;background:#ff994d;"></div>
<div class="a" style="left:376.75px;top:467.00px;width:7.3px;height:38.00px;background:#f7b4ae;"></div>
<div class="a" style="left:376.75px;top:469.50px;width:7.3px;height:35.50px;background:#ff994d;"></div>
<div class="a" style="left:388.28px;top:338.00px;width:7.3px;height:167.00px;background:#f7b4ae;"></div>
<div class="a" style="left:388.28px;top:340.90px;width:7.3px;height:164.10px;background:#b3cefb;"></div>
<div class="a" style="left:388.28px;top:346.30px;width:7.3px;height:158.70px;background:#ff994d;"></div>
<div class="a" style="left:388.28px;top:485.00px;width:7.3px;height:20.00px;background:#fcd04f;"></div>
<div class="a" style="left:388.28px;top:486.80px;width:7.3px;height:18.20px;background:#f07b72;"></div>
<div class="a" style="left:399.81px;top:360.70px;width:7.3px;height:144.30px;background:#f7b4ae;"></div>
<div class="a" style="left:399.81px;top:364.00px;width:7.3px;height:141.00px;background:#ff994d;"></div>
<div class="a" style="left:399.81px;top:481.80px;width:7.3px;height:23.20px;background:#fcd04f;"></div>
<div class="a" style="left:399.81px;top:494.00px;width:7.3px;height:11.00px;background:#f07b72;"></div>
<div class="a" style="left:411.34px;top:354.60px;width:7.3px;height:150.40px;background:#f7b4ae;"></div>
<div class="a" style="left:411.34px;top:358.60px;width:7.3px;height:146.40px;background:#ff994d;"></div>
<div class="a" style="left:411.34px;top:476.00px;width:7.3px;height:29.00px;background:#fcd04f;"></div>
<div class="a" style="left:411.34px;top:486.80px;width:7.3px;height:18.20px;background:#f07b72;"></div>
<div class="a" style="left:422.87px;top:424.50px;width:7.3px;height:80.50px;background:#f7b4ae;"></div>
<div class="a" style="left:422.87px;top:431.00px;width:7.3px;height:74.00px;background:#ff994d;"></div>
<div class="a" style="left:422.87px;top:489.40px;width:7.3px;height:15.60px;background:#fcd04f;"></div>
<div class="a" style="left:434.40px;top:422.70px;width:7.3px;height:82.30px;background:#f7b4ae;"></div>
<div class="a" style="left:434.40px;top:424.10px;width:7.3px;height:80.90px;background:#ff994d;"></div>
<div class="a" style="left:434.40px;top:499.50px;width:7.3px;height:5.50px;background:#fcd04f;"></div>
<div class="a" style="left:859.6px;top:70.0px;width:140px;height:210.7px;border:0.8px solid #b9b9b9;box-sizing:border-box;background:#fff;"></div>
<div class="a" style="left:908.8px;top:237.1px;width:90px;height:0.8px;background:#d9d9d9;"></div>
<div class="t" style="right:95.2px;top:233.6px;font-size:7.35px;color:#444;">0</div>
<div class="a" style="left:908.8px;top:196.0px;width:90px;height:0.8px;background:#d9d9d9;"></div>
<div class="t" style="right:95.2px;top:192.5px;font-size:7.35px;color:#444;">50</div>
<div class="a" style="left:908.8px;top:154.9px;width:90px;height:0.8px;background:#d9d9d9;"></div>
<div class="t" style="right:95.2px;top:151.4px;font-size:7.35px;color:#444;">100</div>
<div class="a" style="left:908.8px;top:113.8px;width:90px;height:0.8px;background:#d9d9d9;"></div>
<div class="t" style="right:95.2px;top:110.3px;font-size:7.35px;color:#444;">150</div>
<div class="t" style="left:877.3px;top:168.2px;font-size:7.35px;color:#222;transform:translate(-50%,-50%) rotate(-90deg);">Number of Sales</div>
<svg style="left:0;top:0" width="1000" height="500" viewBox="0 0 1000 500"><path d="M908.8 237.5H1000" stroke="#333" stroke-width="0.8"/><polyline points="920.2,235.9 944.5,235.0 968.9,235.0 993.2,234.6" fill="none" stroke="#46bdc6" stroke-width="1.4" stroke-linejoin="round"/><rect x="918.1" y="233.8" width="4.2" height="4.2" fill="#46bdc6"/><rect x="942.4" y="232.9" width="4.2" height="4.2" fill="#46bdc6"/><rect x="966.8" y="232.9" width="4.2" height="4.2" fill="#46bdc6"/><polyline points="920.2,237.5 944.5,236.7 968.9,236.7 993.2,231.3" fill="none" stroke="#34a853" stroke-width="1.4" stroke-linejoin="round"/><polyline points="920.2,237.5 944.5,233.4 968.9,232.6 993.2,223.5" fill="none" stroke="#4285f4" stroke-width="1.4" stroke-linejoin="round"/><polyline points="920.2,236.7 944.5,231.7 968.9,230.9 993.2,230.9" fill="none" stroke="#ff994d" stroke-width="1.4" stroke-linejoin="round"/><rect x="918.1" y="234.6" width="4.2" height="4.2" fill="#ff994d"/><rect x="942.4" y="229.6" width="4.2" height="4.2" fill="#ff994d"/><rect x="966.8" y="228.8" width="4.2" height="4.2" fill="#ff994d"/><polyline points="920.2,229.3 944.5,213.7 968.9,207.9 993.2,178.6" fill="none" stroke="#ea4335" stroke-width="1.4" stroke-linejoin="round"/><rect x="918.1" y="227.2" width="4.2" height="4.2" fill="#ea4335"/><rect x="942.4" y="211.6" width="4.2" height="4.2" fill="#ea4335"/><rect x="966.8" y="205.8" width="4.2" height="4.2" fill="#ea4335"/><polyline points="920.2,218.6 944.5,181.6 968.9,187.4 993.2,122.8" fill="none" stroke="#f07b72" stroke-width="1.4" stroke-linejoin="round"/><rect x="918.1" y="216.5" width="4.2" height="4.2" fill="#f07b72"/><rect x="942.4" y="179.5" width="4.2" height="4.2" fill="#f07b72"/><rect x="966.8" y="185.3" width="4.2" height="4.2" fill="#f07b72"/><polyline points="920.2,197.2 944.5,152.0 968.9,153.7 993.2,107.6" fill="none" stroke="#fcd04f" stroke-width="1.4" stroke-linejoin="round"/><rect x="918.1" y="195.1" width="4.2" height="4.2" fill="#fcd04f"/><rect x="942.4" y="149.9" width="4.2" height="4.2" fill="#fcd04f"/><rect x="966.8" y="151.6" width="4.2" height="4.2" fill="#fcd04f"/><path d="M920.2 229.6v6.4M917.6 232.8h5.2" stroke="#222" stroke-width="1"/><path d="M944.5 229.8v5.6M968.9 229.6v5.8" stroke="#333" stroke-width="1"/></svg>
<div class="t" style="right:77.2px;top:240.7px;font-size:7.35px;color:#444;transform-origin:100% 50%;transform:rotate(-45deg);">2019-Jan</div>
<div class="t" style="right:52.9px;top:240.7px;font-size:7.35px;color:#444;transform-origin:100% 50%;transform:rotate(-45deg);">2019-Feb</div>
<div class="t" style="right:28.5px;top:240.7px;font-size:7.35px;color:#444;transform-origin:100% 50%;transform:rotate(-45deg);">2019-Mar</div>
<div class="t" style="right:4.2px;top:240.7px;font-size:7.35px;color:#444;transform-origin:100% 50%;transform:rotate(-45deg);">2019-Apr</div>
<div class="a" style="left:0;top:43.6px;width:1000px;height:41.5px;background:#fff;"></div>
<div class="t b" style="left:36.9px;top:47.2px;font-size:19.05px;color:#000;">JCS - QA Roving Plan Sales</div>
<div class="a" style="left:670.4px;top:43.9px;width:287.0px;height:12.8px;background:#6aa84f;"></div>
<div class="t b" style="left:672.8px;top:46.5px;font-size:8.3px;color:#fff;">State</div>
<div class="a" style="left:670.1px;top:56.4px;width:77.6px;height:13.2px;border:0.8px solid #3a3a3a;box-sizing:border-box;background:#fff;"></div>
<svg style="left:738.7px;top:62.1px" width="5" height="3" viewBox="0 0 5 3"><path d="M0 0h5L2.5 2.8z" fill="#5f6368"/></svg>
<div class="a" style="left:670.1px;top:43.9px;width:0.8px;height:12.8px;background:rgba(30,40,20,0.55);"></div>
<div class="t b" style="left:749.7px;top:46.5px;font-size:8.3px;color:#fff;">CSR</div>
<div class="a" style="left:747.0px;top:56.4px;width:72.2px;height:13.2px;border:0.8px solid #3a3a3a;box-sizing:border-box;background:#fff;"></div>
<svg style="left:810.2px;top:62.1px" width="5" height="3" viewBox="0 0 5 3"><path d="M0 0h5L2.5 2.8z" fill="#5f6368"/></svg>
<div class="a" style="left:747.0px;top:43.9px;width:0.8px;height:12.8px;background:rgba(30,40,20,0.55);"></div>
<div class="t b" style="left:821.2px;top:46.5px;font-size:8.3px;color:#fff;">Region</div>
<div class="a" style="left:818.5px;top:56.4px;width:65.2px;height:13.2px;border:0.8px solid #3a3a3a;box-sizing:border-box;background:#fff;"></div>
<svg style="left:874.7px;top:62.1px" width="5" height="3" viewBox="0 0 5 3"><path d="M0 0h5L2.5 2.8z" fill="#5f6368"/></svg>
<div class="a" style="left:818.5px;top:43.9px;width:0.8px;height:12.8px;background:rgba(30,40,20,0.55);"></div>
<div class="t b" style="left:885.7px;top:46.5px;font-size:8.3px;color:#fff;">Division</div>
<div class="a" style="left:883.0px;top:56.4px;width:74.8px;height:13.2px;border:0.8px solid #3a3a3a;box-sizing:border-box;background:#fff;"></div>
<svg style="left:948.8px;top:62.1px" width="5" height="3" viewBox="0 0 5 3"><path d="M0 0h5L2.5 2.8z" fill="#5f6368"/></svg>
<div class="a" style="left:883.0px;top:43.9px;width:0.8px;height:12.8px;background:rgba(30,40,20,0.55);"></div>
<div class="a" style="left:28px;top:82.8px;width:972px;height:2.3px;background:#dcdfe8;"></div>
<div class="a" style="left:0;top:43.6px;width:27.4px;height:456.4px;background:#f8f9fa;border-right:0.7px solid #dadada;"></div>
<div class="a" style="left:0;top:333.5px;width:27.4px;height:166.5px;background:#e1efe3;"></div>
<div class="a" style="left:0;top:43.6px;width:27.4px;height:12.9px;background:#e4e6e9;"></div>
<div class="rh" style="top:47.5px;">1</div>
<div class="a" style="left:0;top:56.1px;width:27.4px;height:0.7px;background:#d9dadc;"></div>
<div class="rh" style="top:60.4px;">2</div>
<div class="a" style="left:0;top:69.0px;width:27.4px;height:0.7px;background:#d9dadc;"></div>
<div class="rh" style="top:73.3px;">3</div>
<div class="rh" style="top:88.6px;">40</div>
<div class="a" style="left:0;top:97.2px;width:27.4px;height:0.7px;background:#d9dadc;"></div>
<div class="rh" style="top:101.5px;">41</div>
<div class="a" style="left:0;top:110.1px;width:27.4px;height:0.7px;background:#d9dadc;"></div>
<div class="rh" style="top:114.4px;">42</div>
<div class="a" style="left:0;top:123.1px;width:27.4px;height:0.7px;background:#d9dadc;"></div>
<div class="rh" style="top:127.3px;">43</div>
<div class="a" style="left:0;top:136.0px;width:27.4px;height:0.7px;background:#d9dadc;"></div>
<div class="rh" style="top:140.2px;">44</div>
<div class="a" style="left:0;top:148.9px;width:27.4px;height:0.7px;background:#d9dadc;"></div>
<div class="rh" style="top:153.2px;">45</div>
<div class="a" style="left:0;top:161.8px;width:27.4px;height:0.7px;background:#d9dadc;"></div>
<div class="rh" style="top:166.1px;">46</div>
<div class="a" style="left:0;top:174.7px;width:27.4px;height:0.7px;background:#d9dadc;"></div>
<div class="rh" style="top:179.0px;">47</div>
<div class="a" style="left:0;top:187.7px;width:27.4px;height:0.7px;background:#d9dadc;"></div>
<div class="rh" style="top:191.9px;">48</div>
<div class="a" style="left:0;top:200.6px;width:27.4px;height:0.7px;background:#d9dadc;"></div>
<div class="rh" style="top:204.8px;">49</div>
<div class="a" style="left:0;top:213.5px;width:27.4px;height:0.7px;background:#d9dadc;"></div>
<div class="rh" style="top:217.8px;">50</div>
<div class="a" style="left:0;top:226.4px;width:27.4px;height:0.7px;background:#d9dadc;"></div>
<div class="rh" style="top:230.7px;">51</div>
<div class="a" style="left:0;top:239.3px;width:27.4px;height:0.7px;background:#d9dadc;"></div>
<div class="rh" style="top:243.6px;">52</div>
<div class="a" style="left:0;top:252.3px;width:27.4px;height:0.7px;background:#d9dadc;"></div>
<div class="rh" style="top:256.5px;">53</div>
<div class="a" style="left:0;top:265.2px;width:27.4px;height:0.7px;background:#d9dadc;"></div>
<div class="rh" style="top:269.4px;">54</div>
<div class="a" style="left:0;top:278.1px;width:27.4px;height:0.7px;background:#d9dadc;"></div>
<div class="rh" style="top:282.4px;">55</div>
<div class="a" style="left:0;top:291.0px;width:27.4px;height:0.7px;background:#d9dadc;"></div>
<div class="rh" style="top:295.3px;">56</div>
<div class="a" style="left:0;top:303.9px;width:27.4px;height:0.7px;background:#d9dadc;"></div>
<div class="rh" style="top:308.2px;">57</div>
<div class="a" style="left:0;top:316.9px;width:27.4px;height:0.7px;background:#d9dadc;"></div>
<div class="rh" style="top:322.8px;">58</div>
<div class="a" style="left:0;top:333.1px;width:27.4px;height:0.7px;background:#d9dadc;"></div>
<div class="rh" style="top:337.4px;">59</div>
<div class="a" style="left:0;top:346.0px;width:27.4px;height:0.7px;background:#d9dadc;"></div>
<div class="rh" style="top:350.3px;">60</div>
<div class="a" style="left:0;top:358.9px;width:27.4px;height:0.7px;background:#d9dadc;"></div>
<div class="rh" style="top:363.2px;">61</div>
<div class="a" style="left:0;top:371.9px;width:27.4px;height:0.7px;background:#d9dadc;"></div>
<div class="rh" style="top:376.1px;">62</div>
<div class="a" style="left:0;top:384.8px;width:27.4px;height:0.7px;background:#d9dadc;"></div>
<div class="rh" style="top:389.0px;">63</div>
<div class="a" style="left:0;top:397.7px;width:27.4px;height:0.7px;background:#d9dadc;"></div>
<div class="rh" style="top:402.0px;">64</div>
<div class="a" style="left:0;top:410.6px;width:27.4px;height:0.7px;background:#d9dadc;"></div>
<div class="rh" style="top:414.9px;">65</div>
<div class="a" style="left:0;top:423.5px;width:27.4px;height:0.7px;background:#d9dadc;"></div>
<div class="rh" style="top:427.8px;">66</div>
<div class="a" style="left:0;top:436.5px;width:27.4px;height:0.7px;background:#d9dadc;"></div>
<div class="rh" style="top:440.7px;">67</div>
<div class="a" style="left:0;top:449.4px;width:27.4px;height:0.7px;background:#d9dadc;"></div>
<div class="rh" style="top:453.6px;">68</div>
<div class="a" style="left:0;top:462.3px;width:27.4px;height:0.7px;background:#d9dadc;"></div>
<div class="rh" style="top:466.6px;">69</div>
<div class="a" style="left:0;top:475.2px;width:27.4px;height:0.7px;background:#d9dadc;"></div>
<div class="rh" style="top:479.5px;">70</div>
<div class="a" style="left:0;top:488.1px;width:27.4px;height:0.7px;background:#d9dadc;"></div>
<div class="rh" style="top:492.4px;">71</div>
<div class="a" style="left:0;top:501.1px;width:27.4px;height:0.7px;background:#d9dadc;"></div>
<div class="a" style="left:0;top:82.8px;width:28px;height:2.3px;background:#bdbdbd;"></div>
<div class="a" style="left:0;top:28.8px;width:991px;height:15.3px;background:#f8f9fa;border-top:1px solid #c9c9c9;border-bottom:1px solid #c0c0c0;box-sizing:border-box;"></div>
<div class="a" style="left:562.4px;top:29.8px;width:428.6px;height:13.5px;background:#e2f0e5;"></div>
<div class="a" style="left:28.0px;top:29.8px;width:7.9px;height:13.5px;background:#e6e8ea;"></div>
<div class="ch" style="left:28.0px;width:7.9px;">A</div>
<div class="a" style="left:35.5px;top:29.5px;width:0.7px;height:14.1px;background:#c6c6c6;"></div>
<div class="ch" style="left:35.9px;width:154.5px;">B</div>
<div class="a" style="left:190.1px;top:29.5px;width:0.7px;height:14.1px;background:#c6c6c6;"></div>
<div class="ch" style="left:190.4px;width:62.0px;">C</div>
<div class="a" style="left:252.1px;top:29.5px;width:0.7px;height:14.1px;background:#c6c6c6;"></div>
<div class="ch" style="left:252.4px;width:62.0px;">D</div>
<div class="a" style="left:314.0px;top:29.5px;width:0.7px;height:14.1px;background:#c6c6c6;"></div>
<div class="ch" style="left:314.4px;width:62.0px;">E</div>
<div class="a" style="left:376.0px;top:29.5px;width:0.7px;height:14.1px;background:#c6c6c6;"></div>
<div class="ch" style="left:376.4px;width:62.0px;">F</div>
<div class="a" style="left:438.0px;top:29.5px;width:0.7px;height:14.1px;background:#c6c6c6;"></div>
<div class="ch" style="left:438.4px;width:62.0px;">G</div>
<div class="a" style="left:500.0px;top:29.5px;width:0.7px;height:14.1px;background:#c6c6c6;"></div>
<div class="ch" style="left:500.4px;width:62.0px;">H</div>
<div class="a" style="left:562.0px;top:29.5px;width:0.7px;height:14.1px;background:#c6c6c6;"></div>
<div class="ch" style="left:562.4px;width:108.0px;">I</div>
<div class="a" style="left:670.0px;top:29.5px;width:0.7px;height:14.1px;background:#c6c6c6;"></div>
<div class="ch" style="left:670.4px;width:76.9px;">J</div>
<div class="a" style="left:746.9px;top:29.5px;width:0.7px;height:14.1px;background:#c6c6c6;"></div>
<div class="ch" style="left:747.3px;width:71.5px;">K</div>
<div class="a" style="left:818.4px;top:29.5px;width:0.7px;height:14.1px;background:#c6c6c6;"></div>
<div class="ch" style="left:818.8px;width:64.5px;">L</div>
<div class="a" style="left:882.9px;top:29.5px;width:0.7px;height:14.1px;background:#c6c6c6;"></div>
<div class="ch" style="left:883.3px;width:74.1px;">M</div>
<div class="a" style="left:957.0px;top:29.5px;width:0.7px;height:14.1px;background:#c6c6c6;"></div>
<div class="ch" style="left:957.4px;width:62.0px;">N</div>
<div class="a" style="left:1019.0px;top:29.5px;width:0.7px;height:14.1px;background:#c6c6c6;"></div>
<div class="a" style="left:25.2px;top:29.5px;width:2.8px;height:14.4px;background:#bdbdbd;"></div>
<div class="a" style="left:28.2px;top:43.8px;width:7.7px;height:12.9px;border:1.3px solid #3f83f0;box-sizing:border-box;"></div>
<div class="a" style="left:33.4px;top:54.6px;width:3.2px;height:3.2px;background:#3f83f0;border:0.5px solid #fff;"></div>
<div class="a" style="left:0;top:14.0px;width:1000px;height:13.8px;background:#fff;border-top:1px solid #e2e2e2;"></div>
<div class="t" style="left:4.8px;top:18.0px;font-size:7.5px;color:#444;">A1</div>
<svg style="left:54.8px;top:21.2px" width="4" height="2.4" viewBox="0 0 4 2.4"><path d="M0 0h4L2 2.4z" fill="#777"/></svg>
<div class="a" style="left:63px;top:17px;width:0.8px;height:10px;background:#d8d8d8;"></div>
<div class="t" style="left:70.6px;top:15.2px;font-size:12.6px;font-style:italic;color:#b4b4b4;font-family:'Liberation Serif',serif;">fx</div>
<div class="a" style="left:89.4px;top:17px;width:0.8px;height:10px;background:#d8d8d8;"></div>
<div class="a" style="left:0;top:0;width:1000px;height:14px;background:#fff;"></div>
<svg style="left:0;top:0" width="1000" height="14" viewBox="0 0 1000 14"><rect x="352" y="-2" width="16" height="11.8" rx="1" fill="#e3f2e6"/><rect x="651.8" y="-2" width="17.1" height="12" rx="1" fill="#e3f2e6"/><rect x="89.4" y="-1" width="0.8" height="9.2" fill="#dadce0"/><rect x="135.5" y="-1" width="0.8" height="9.2" fill="#dadce0"/><rect x="233.1" y="-1" width="0.8" height="9.2" fill="#dadce0"/><rect x="303.2" y="-1" width="0.8" height="9.2" fill="#dadce0"/><rect x="348.0" y="-1" width="0.8" height="9.2" fill="#dadce0"/><rect x="423.9" y="-1" width="0.8" height="9.2" fill="#dadce0"/><rect x="494.8" y="-1" width="0.8" height="9.2" fill="#dadce0"/><rect x="596.2" y="-1" width="0.8" height="9.2" fill="#dadce0"/><path transform="translate(21.50 -2.50) scale(0.4615)" d="M12.5 8c-2.65 0-5.05.99-6.9 2.6L2 7v9h9l-3.62-3.62c1.39-1.16 3.16-1.88 5.12-1.88 3.54 0 6.55 2.31 7.6 5.5l2.37-.78C21.08 11.03 17.15 8 12.5 8z" fill="#555b61"/><path transform="translate(38.90 -2.50) scale(0.4615)" d="M18.4 10.6C16.55 8.99 14.15 8 11.5 8c-4.65 0-8.58 3.03-9.96 7.22L3.9 16c1.05-3.19 4.05-5.5 7.6-5.5 1.95 0 3.73.72 5.12 1.88L13 16h9V7l-3.6 3.6z" fill="#555b61"/><path transform="translate(55.70 -3.20) scale(0.4615)" d="M19 8H5c-1.66 0-3 1.34-3 3v6h4v4h12v-4h4v-6c0-1.66-1.34-3-3-3zm-3 11H8v-5h8v5zm3-7c-.55 0-1-.45-1-1s.45-1 1-1 1 .45 1 1-.45 1-1 1zm-1-9H6v4h12V3z" fill="#555b61"/><rect x="75.25" y="-3" width="6" height="3.9" fill="#555b61"/><path d="M81.2 -0.6h1.1v2.9h-4.25v4.2" stroke="#555b61" stroke-width="1.5" fill="none"/><path d="M126.0 1.4H130.3L128.2 3.6z" fill="#555b61"/><path d="M223.2 1.6H226.9L225.1 3.5z" fill="#555b61"/><path d="M293.1 1.4H297.0L295.1 3.3z" fill="#555b61"/><path d="M339.0 1.4H343.4L341.2 3.6z" fill="#555b61"/><path d="M484.8 1.4H489.0L486.9 3.5z" fill="#c4c7c5"/><path d="M514.3 1.4H518.1L516.2 3.3z" fill="#555b61"/><path d="M538.4 1.4H542.2L540.3 3.3z" fill="#555b61"/><path d="M562.2 1.4H566.0L564.1 3.3z" fill="#555b61"/><path d="M586.7 1.4H590.5L588.6 3.3z" fill="#555b61"/><path d="M671.7 1.4H675.9L673.8 3.5z" fill="#555b61"/><path d="M696.0 1.4H699.7L697.9 3.3z" fill="#b0b3b6"/><path d="M181.4 7h4.3M181.4 7l1.5-1.3M181.4 7l1.5 1.3" stroke="#333" stroke-width="1" fill="none"/><path d="M199.3 7h4.5M203.8 7l-1.5-1.3M203.8 7l-1.5 1.3" stroke="#333" stroke-width="1" fill="none"/><path transform="translate(353.60 -2.80) scale(0.4900)" d="M15.6 10.79c.97-.67 1.65-1.77 1.65-2.79 0-2.26-1.75-4-4-4H7v14h7.04c2.09 0 3.71-1.7 3.71-3.79 0-1.52-.86-2.82-2.15-3.42zM10 6.5h3c.83 0 1.5.67 1.5 1.5s-.67 1.5-1.5 1.5h-3v-3zm3.5 9H10v-3h3.5c.83 0 1.5.67 1.5 1.5s-.67 1.5-1.5 1.5z" fill="#188038"/><path transform="translate(370.50 -3.00) scale(0.4900)" d="M10 4v3h2.21l-3.42 8H6v3h8v-3h-2.21l3.42-8H18V4z" fill="#555b61"/><path d="M396.8 0.2c-.9-1.3-4.2-1.2-4.2.5 0 1.8 4.9 1.2 4.9 3.3 0 2.1-4.5 2.1-5.3 .3" stroke="#555b61" stroke-width="1.1" fill="none"/><rect x="390.3" y="2.0" width="8.4" height="0.9" fill="#555b61"/><path d="M409 5l3.4-8.6 3.4 8.6M410.2 2.2h4.4" stroke="#555b61" stroke-width="1.1" fill="none"/><rect x="406.1" y="7.3" width="12.9" height="2.4" fill="#000"/><path d="M432 1.2l4 3.9 4-3.9-2.2-2.2h-3.6z" fill="#555b61"/><circle cx="440" cy="3.9" r="0.9" fill="#555b61"/><path d="M451 -2h7.8v8.2H451zM454.9 -2v8.2M451 2.2h7.8" stroke="#555b61" stroke-width="1" fill="none"/><path d="M468.5 -2v2.4M468.5 4v2.3h2.6M477.6 -2v2.4M477.6 4v2.3h-2.6M472 6.3h2.2M470 2.2h2.2M476 2.2h-2.2M471.7 1.2l.9 1-.9 1M474.5 1.2l-.9 1 .9 1" stroke="#c4c7c5" stroke-width="0.8" fill="none"/><path d="M501.3 1.2h8.4M501.3 3.6h6.2M501.3 6h8.4" stroke="#555b61" stroke-width="0.95" fill="none"/><path d="M529.8 -2v6.2M527.9 2.3l1.9 2 1.9-2M526.2 6.2h7.3" stroke="#555b61" stroke-width="0.95" fill="none"/><path d="M549.8 -2v8.6M552 2.2h5.2M555.6 0.8l1.6 1.4-1.6 1.4M553.6 -1.5v1.8M553.6 4.2v2.2" stroke="#555b61" stroke-width="0.9" fill="none"/><path d="M574.5 0l4.3 5.8M576.4 5.8l5.5-5.2M580.4 -1.6l1.9 1.6" stroke="#555b61" stroke-width="1" fill="none"/><path d="M607.2 0.3h-2a2.1 2.1 0 0 0 0 4.2h2M608.4 0.3h2a2.1 2.1 0 0 1 0 4.2h-2M605.6 2.4h4.4" stroke="#555b61" stroke-width="1.05" fill="none"/><path d="M621.6 -3h7.6v6.6h-5.4l-2.2 2.2z" stroke="#555b61" stroke-width="0.95" fill="none"/><path d="M623.8 0.6h3.4M625.5 -1v3.2" stroke="#555b61" stroke-width="0.8" fill="none"/><path d="M637.6 -3h9.1v9.4h-9.1z" stroke="#555b61" stroke-width="0.95" fill="none"/><path d="M640 1v3.6M642.2 -1.5v6.1M644.4 2.4v2.2" stroke="#555b61" stroke-width="1" fill="none"/><path d="M656.4 -1h7.6l-3 3.7v3.5h-1.6v-3.5z" fill="#188038"/><path d="M689.8 -2.4h-5.4l3.1 3.9-3.1 4.1h5.6" stroke="#555b61" stroke-width="1" fill="none"/><path d="M983.0 4.6l3.7-3.8 3.7 3.8" stroke="#444" stroke-width="1.2" fill="none"/></svg>
<div class="t" style="left:100.1px;top:0.3px;font-size:6.8px;color:#7a7d82;">100%</div>
<div class="t" style="left:145.2px;top:0.3px;font-size:6.8px;color:#4a4e54;">$</div>
<div class="t" style="left:161.8px;top:0.3px;font-size:6.8px;color:#4a4e54;">%</div>
<div class="t" style="left:176.2px;top:0.3px;font-size:6.8px;color:#4a4e54;">.0</div>
<div class="t" style="left:193.0px;top:0.3px;font-size:6.8px;color:#4a4e54;">.00</div>
<div class="t" style="left:209.5px;top:0.3px;font-size:6.8px;color:#4a4e54;">123</div>
<div class="t" style="left:244.2px;top:0.3px;font-size:6.8px;color:#4a4e54;">Default (Ari...</div>
<div class="t" style="left:313.4px;top:-0.6px;font-size:6.8px;color:#6a6d72;">24</div>
<div class="a" style="left:990.6px;top:29px;width:9.4px;height:471px;background:#fff;"></div>
<div class="a" style="left:990.6px;top:29px;width:7.8px;height:471px;background:#f7f7f7;border-left:1px solid #dedede;border-right:1px solid #ececec;box-sizing:border-box;"></div>
<div class="a" style="left:990.6px;top:82.8px;width:9.4px;height:2.3px;background:#e2e3e6;"></div>
<div class="a" style="left:992.2px;top:86.8px;width:5.1px;height:15.4px;background:#d0d2d6;border-radius:2.6px;"></div>
</body></html>
